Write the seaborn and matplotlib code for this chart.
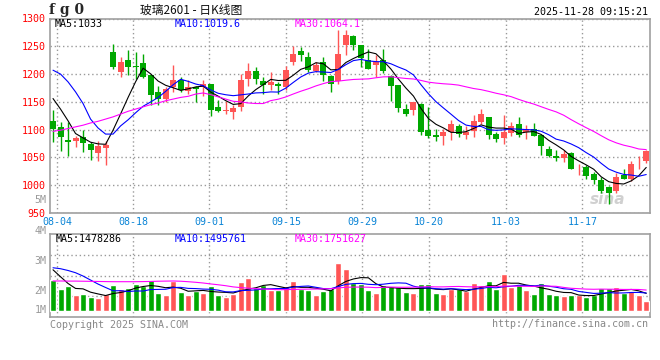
import numpy as np
import pandas as pd
import matplotlib
matplotlib.use('Agg')
import matplotlib.pyplot as plt
import seaborn as sns

# 日K数据 (读自图片), 80 根K线
opens = [1116, 1104, 1082, 1080, 1086, 1074, 1058, 1067, 1239, 1204,
         1225, 1215, 1220, 1199, 1167, 1156, 1176, 1189, 1170, 1177,
         1176, 1182, 1140, 1134, 1132, 1140, 1191, 1205, 1187, 1181,
         1183, 1177, 1222, 1241, 1231, 1206, 1221, 1196, 1188, 1252,
         1269, 1252, 1225, 1217, 1226, 1197, 1180, 1138, 1136, 1146,
         1099, 1090, 1089, 1096, 1106, 1091, 1098, 1114, 1123, 1092,
         1085, 1094, 1111, 1095, 1101, 1091, 1066, 1052, 1049, 1058,
         1029, 1032, 1020, 1009, 996, 989, 1018, 1012, 1034, 1043]
highs = [1136, 1114, 1113, 1089, 1099, 1078, 1080, 1080, 1254, 1230,
         1243, 1239, 1237, 1199, 1179, 1177, 1216, 1195, 1189, 1179,
         1189, 1183, 1153, 1151, 1145, 1201, 1220, 1212, 1195, 1204,
         1186, 1214, 1250, 1248, 1239, 1222, 1230, 1198, 1279, 1280,
         1270, 1253, 1245, 1234, 1246, 1199, 1180, 1146, 1150, 1148,
         1141, 1102, 1101, 1117, 1110, 1107, 1126, 1137, 1123, 1095,
         1127, 1114, 1123, 1109, 1112, 1091, 1070, 1064, 1063, 1059,
         1038, 1036, 1023, 1015, 999, 1022, 1030, 1044, 1053, 1063]
lows = [1078, 1061, 1052, 1069, 1060, 1045, 1043, 1036, 1210, 1194,
        1199, 1191, 1193, 1144, 1145, 1150, 1168, 1168, 1165, 1149,
        1161, 1124, 1131, 1129, 1119, 1134, 1179, 1183, 1164, 1172,
        1164, 1172, 1217, 1224, 1204, 1204, 1188, 1168, 1183, 1235,
        1243, 1213, 1209, 1195, 1202, 1152, 1131, 1124, 1126, 1090,
        1085, 1080, 1073, 1081, 1086, 1084, 1087, 1110, 1083, 1078,
        1074, 1088, 1087, 1083, 1088, 1055, 1050, 1043, 1041, 1029,
        1019, 1011, 1003, 986, 967, 986, 1011, 1008, 1029, 1040]
closes = [1102, 1086, 1077, 1085, 1076, 1063, 1071, 1073, 1213, 1221,
          1212, 1212, 1195, 1162, 1156, 1174, 1190, 1171, 1176, 1173,
          1182, 1136, 1134, 1136, 1139, 1189, 1205, 1191, 1181, 1186,
          1179, 1207, 1237, 1234, 1208, 1216, 1198, 1182, 1237, 1271,
          1252, 1229, 1210, 1221, 1206, 1179, 1139, 1129, 1149, 1095,
          1088, 1087, 1096, 1110, 1093, 1096, 1115, 1129, 1090, 1084,
          1096, 1106, 1090, 1102, 1089, 1070, 1053, 1049, 1057, 1030,
          1030, 1017, 1010, 989, 986, 1014, 1012, 1038, 1035, 1061]
# 成交量 (百万手)
volumes = [2.60, 1.84, 2.09, 1.33, 1.41, 1.19, 1.10, 1.41, 2.18, 1.84,
           1.92, 2.26, 2.06, 2.60, 1.50, 1.33, 2.52, 1.58, 1.33, 1.67,
           1.50, 2.09, 1.33, 1.19, 1.41, 2.43, 2.77, 1.92, 2.18, 1.75,
           1.72, 2.09, 2.52, 1.84, 1.75, 1.33, 1.67, 1.84, 4.01, 3.56,
           2.37, 2.26, 1.75, 1.52, 2.18, 2.09, 2.01, 1.58, 1.50, 2.26,
           2.26, 1.52, 1.41, 1.84, 1.84, 1.67, 2.35, 2.18, 2.52, 1.84,
           3.11, 2.01, 2.18, 1.75, 1.41, 2.35, 1.41, 1.33, 1.25, 1.33,
           1.33, 1.19, 1.33, 1.92, 1.92, 2.01, 1.50, 1.67, 1.33, 0.85]

# 均线开头几天 (历史数据不在图内, 直接读图)
ma5_head = [1156, 1137, 1116, 1093]
ma10_head = [1207, 1200, 1186, 1168, 1147, 1119, 1103, 1092, 1092]
ma30_head = [1097, 1099, 1102, 1105, 1108, 1112, 1115, 1119, 1123, 1128,
             1133, 1137, 1141, 1145, 1148, 1152, 1155, 1158, 1160, 1164,
             1166, 1163, 1159, 1155, 1151, 1150, 1148, 1147, 1147]
vma5_head = [3.47, 2.88, 2.31, 1.89]
vma10_head = [3.64, 3.56, 3.41, 3.22, 2.94, 2.60, 2.26, 1.97, 1.69]
vma30_head = [2.52, 2.52, 2.51, 2.51, 2.50, 2.49, 2.48, 2.47, 2.46, 2.46,
              2.46, 2.46, 2.47, 2.48, 2.50, 2.51, 2.52, 2.50, 2.46, 2.41,
              2.35, 2.27, 2.20, 2.12, 2.02, 1.96, 1.91, 1.87, 1.84]

date_labels = ['08-04', '08-18', '09-01', '09-15', '09-29', '10-20', '11-03', '11-17']
tick_pos = [0.57, 10.71, 20.84, 31.07, 41.16, 50.04, 60.27, 70.49]
price_ticks = [950, 1000, 1050, 1100, 1150, 1200, 1250, 1300]

RED = '#ff5555'
GREEN = '#00a800'
GRID = '#999999'
SPINE = '#a0a0a0'

df = pd.DataFrame({'o': opens, 'h': highs, 'l': lows, 'c': closes, 'v': volumes})
df['idx'] = np.arange(len(df))
df['dir'] = np.where(df['c'] >= df['o'], 'up', 'down')


def moving(s, n, head):
    m = s.rolling(n).mean()
    m.iloc[:n - 1] = head
    return m


df['ma5'] = moving(df['c'], 5, ma5_head)
df['ma10'] = moving(df['c'], 10, ma10_head)
df['ma30'] = moving(df['c'], 30, ma30_head)
df['vma5'] = moving(df['v'], 5, vma5_head)
df['vma10'] = moving(df['v'], 10, vma10_head)
df['vma30'] = moving(df['v'], 30, vma30_head)

sns.set_theme(style='white')
plt.rcParams['font.family'] = ['DejaVu Sans Mono', 'Noto Sans CJK SC']

fig = plt.figure(figsize=(6.6, 3.6), dpi=100)
ax = fig.add_axes([50 / 660, 1 - 213 / 360, 600 / 660, 194.5 / 360])
axv = fig.add_axes([50 / 660, 1 - 317 / 360, 600 / 660, 83 / 360])

# K线
cols = df['dir'].map({'up': RED, 'down': GREEN})
ax.vlines(df['idx'], df['l'], df['h'], colors=cols, lw=1, zorder=3)
body_lo = df[['o', 'c']].min(axis=1)
body_h = (df['c'] - df['o']).abs().clip(lower=0.8)
ax.bar(df['idx'], body_h, bottom=body_lo, width=0.8, color=cols, linewidth=0, zorder=4)

sns.lineplot(data=df, x='idx', y='ma5', ax=ax, color='black', lw=0.8, zorder=5)
sns.lineplot(data=df, x='idx', y='ma10', ax=ax, color='#0000ff', lw=0.8, zorder=5)
sns.lineplot(data=df, x='idx', y='ma30', ax=ax, color='#ff00ff', lw=0.8, zorder=5)

# 成交量
sns.barplot(data=df, x='idx', y='v', hue='dir', palette={'up': RED, 'down': GREEN},
            native_scale=True, width=0.8, dodge=False, saturation=1, errorbar=None,
            legend=False, ax=axv, zorder=3)
sns.lineplot(data=df, x='idx', y='vma5', ax=axv, color='black', lw=0.8, zorder=5)
sns.lineplot(data=df, x='idx', y='vma10', ax=axv, color='#0000ff', lw=0.8, zorder=5)
sns.lineplot(data=df, x='idx', y='vma30', ax=axv, color='#ff00ff', lw=0.8, zorder=5)

for a in (ax, axv):
    a.set_xlim(-0.4, 79.5)
    a.set_xlabel('')
    a.set_ylabel('')
    a.set_xticks(tick_pos)
    a.grid(True, color=GRID, linestyle=(0, (1, 2)), lw=1.0)
    a.tick_params(length=0)
    for sp in a.spines.values():
        sp.set_color(SPINE)
        sp.set_linewidth(1.2)

ax.set_ylim(950, 1300)
ax.set_yticks(price_ticks)
ax.set_yticklabels([str(t) for t in price_ticks], color='#ff0000', fontsize=7.2)
ax.set_xticklabels(date_labels, color='#0a84d6', fontsize=7.2)
ax.tick_params(axis='y', pad=3)
ax.tick_params(axis='x', pad=3)

vlo, vhi = -0.53, 6.5
axv.set_ylim(vlo, vhi)
axv.set_yticks(np.linspace(vlo, vhi, 5)[1:-1])
axv.set_yticklabels([])
axv.set_xticklabels([])

# 文字
ax.text(0.007, 0.972, 'MA5:1033', transform=ax.transAxes, color='black', fontsize=7.2, va='center')
ax.text(0.208, 0.972, 'MA10:1019.6', transform=ax.transAxes, color='#0000ff', fontsize=7.2, va='center')
ax.text(0.408, 0.972, 'MA30:1064.1', transform=ax.transAxes, color='#ff00ff', fontsize=7.2, va='center')
ax.text(-0.006, 0.067, '5M', transform=ax.transAxes, color='#999999', fontsize=7.2, va='center', ha='right')
ax.text(0.93, 0.07, 'sina', transform=ax.transAxes, color='#d0d0d0', fontsize=11,
        style='italic', fontweight='bold', family='DejaVu Sans', va='center', ha='center', zorder=1)

axv.text(0.009, 0.94, 'MA5:1478286', transform=axv.transAxes, color='black', fontsize=7.2, va='center')
axv.text(0.208, 0.94, 'MA10:1495761', transform=axv.transAxes, color='#0000ff', fontsize=7.2, va='center')
axv.text(0.408, 0.94, 'MA30:1751627', transform=axv.transAxes, color='#ff00ff', fontsize=7.2, va='center')
for lab, yf in [('4M', 1.036), ('3M', 0.675), ('2M', 0.313), ('1M', 0.084)]:
    axv.text(-0.006, yf, lab, transform=axv.transAxes, color='#999999', fontsize=7.2, va='center', ha='right')

fig.text(49 / 660, 1 - 10 / 360, 'f g 0', fontsize=10, fontweight='bold', family='DejaVu Serif', va='center')
fig.text(140 / 660, 1 - 10 / 360, '玻璃2601 - 日K线图', fontsize=8.5, color='#111111',
         family=['Noto Sans CJK SC', 'DejaVu Sans'], va='center')
fig.text(648 / 660, 1 - 12 / 360, '2025-11-28 09:15:21', fontsize=7.2, color='black', ha='right', va='center')
fig.text(50 / 660, 1 - 325 / 360, 'Copyright 2025 SINA.COM', fontsize=7.2, color='#888888', va='center')
fig.text(648 / 660, 1 - 324 / 360, 'http://finance.sina.com.cn', fontsize=7.2, color='#888888', ha='right', va='center')

fig.savefig('out.png', dpi=100, facecolor='white')
